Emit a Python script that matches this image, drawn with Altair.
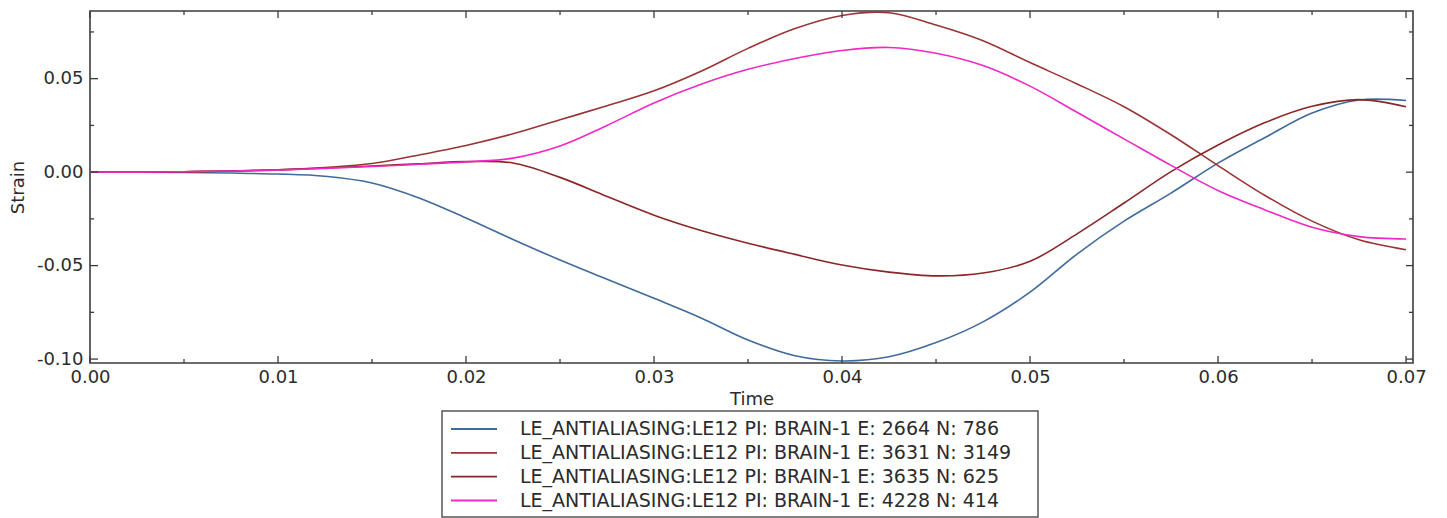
import altair as alt
import pandas as pd

# ---- data -----------------------------------------------------------------
time_s = [0.0, 0.0025, 0.005, 0.0075, 0.01, 0.0125, 0.015, 0.0175, 0.02,
          0.0225, 0.025, 0.0275, 0.03, 0.0325, 0.035, 0.0375, 0.04, 0.0425,
          0.045, 0.0475, 0.05, 0.0525, 0.055, 0.0575, 0.06, 0.0625, 0.065,
          0.0675, 0.07]

strain_e2664 = [0.0, 0.0, -0.0002, -0.0005, -0.001, -0.0022, -0.0058, -0.0138,
                -0.0245, -0.036, -0.047, -0.0573, -0.0675, -0.078, -0.0898,
                -0.0982, -0.101, -0.0988, -0.0912, -0.0801, -0.0642, -0.0438,
                -0.0262, -0.0112, 0.0048, 0.0185, 0.0316, 0.0386, 0.0383]

strain_e3631 = [0.0, 0.0, 0.0002, 0.0006, 0.0012, 0.0025, 0.0046, 0.0092,
                0.0143, 0.0205, 0.028, 0.0355, 0.0435, 0.054, 0.0662, 0.0768,
                0.0838, 0.0853, 0.0787, 0.0703, 0.0586, 0.0472, 0.035, 0.02,
                0.0035, -0.0125, -0.0262, -0.0362, -0.0415]

strain_e3635 = [0.0, 0.0, 0.0002, 0.0006, 0.0012, 0.0022, 0.0033, 0.0045,
                0.0056, 0.0049, -0.0028, -0.013, -0.023, -0.0312, -0.038,
                -0.044, -0.0497, -0.0535, -0.0555, -0.054, -0.0477, -0.033,
                -0.0165, 0.0003, 0.0145, 0.0265, 0.0352, 0.0388, 0.035]

strain_e4228 = [0.0, 0.0, 0.0002, 0.0006, 0.0011, 0.002, 0.003, 0.0042,
                0.0055, 0.0075, 0.014, 0.025, 0.037, 0.047, 0.055, 0.0608,
                0.0651, 0.0667, 0.0636, 0.057, 0.046, 0.032, 0.0178, 0.0036,
                -0.0098, -0.0202, -0.0295, -0.0345, -0.0358]

series_names = [
    "LE_ANTIALIASING:LE12 PI: BRAIN-1 E: 2664 N: 786",
    "LE_ANTIALIASING:LE12 PI: BRAIN-1 E: 3631 N: 3149",
    "LE_ANTIALIASING:LE12 PI: BRAIN-1 E: 3635 N: 625",
    "LE_ANTIALIASING:LE12 PI: BRAIN-1 E: 4228 N: 414",
]
series_colors = ["#3f6b9c", "#9a3434", "#8a2626", "#f028c4"]

x_major = [0.0, 0.01, 0.02, 0.03, 0.04, 0.05, 0.06, 0.07]
x_minor = [0.005, 0.015, 0.025, 0.035, 0.045, 0.055, 0.065]
y_major = [-0.10, -0.05, 0.0, 0.05]
y_minor = [-0.075, -0.025, 0.025, 0.075]

# ---- layout / style -------------------------------------------------------
W, H = 1323, 352
FONT = "DejaVu Sans"
FS = 18
LEGEND_FS = 19
INK = "#2b2b2b"
FRAME = "#3c3c3c"

rows = []
for name, vals in zip(series_names,
                      [strain_e2664, strain_e3631, strain_e3635, strain_e4228]):
    for t, v in zip(time_s, vals):
        rows.append({"time": t, "strain": v, "series": name})
curves = pd.DataFrame(rows)

xs = alt.Scale(domain=[0.0, 0.07037], nice=False, zero=False)
ys = alt.Scale(domain=[-0.1021, 0.0862], nice=False, zero=False)

x_axis = alt.Axis(values=x_major, format=".2f", labelFlush=False,
                  ticks=False, tickSize=0, domain=False, grid=False,
                  labelPadding=5, titlePadding=4)
y_axis = alt.Axis(values=y_major, labelFlush=False,
                  labelExpr="replace(format(datum.value, '.2f'), '\u2212', '-')",
                  ticks=False, tickSize=0, domain=False, grid=False,
                  labelPadding=7, titlePadding=9)


def x_enc():
    return alt.X("time:Q", scale=xs, title="Time", axis=x_axis)


def y_enc():
    return alt.Y("strain:Q", scale=ys, title="Strain", axis=y_axis)


color = alt.Color("series:N",
                  scale=alt.Scale(domain=series_names, range=series_colors),
                  legend=None)

lines = alt.Chart(curves).mark_line(
    strokeWidth=1.6, interpolate="catmull-rom"
).encode(x=x_enc(), y=y_enc(), color=color)


# inward-pointing frame ticks on all four sides
def x_ticks(values, length, top):
    df = pd.DataFrame({"time": values})
    y0, y1 = (0, length) if top else (H, H - length)
    return alt.Chart(df).mark_rule(color=FRAME, strokeWidth=1.3).encode(
        x=x_enc(), y=alt.value(y0), y2=alt.value(y1))


def y_ticks(values, length, right):
    df = pd.DataFrame({"strain": values})
    x0, x1 = (W, W - length) if right else (0, length)
    return alt.Chart(df).mark_rule(color=FRAME, strokeWidth=1.3).encode(
        y=y_enc(), x=alt.value(x0), x2=alt.value(x1))


ticks = [
    x_ticks(x_major, 7, False), x_ticks(x_minor, 4, False),
    x_ticks(x_major, 7, True), x_ticks(x_minor, 4, True),
    y_ticks(y_major, 8, False), y_ticks(y_minor, 4, False),
    y_ticks(y_major, 7, True), y_ticks(y_minor, 4, True),
]

plot = alt.layer(lines, *ticks)

# ---- legend box below the axes ---------------------------------------------
legend_df = pd.DataFrame({"series": series_names})
row_y = alt.Y("series:N",
              scale=alt.Scale(type="point", domain=series_names,
                              range=[418, 489.5], padding=0),
              axis=None)

box = alt.Chart(alt.Data(values=[{"k": 0}])).mark_rect(
    fill="white", stroke="#555555", strokeWidth=1.5
).encode(x=alt.value(352), x2=alt.value(948),
         y=alt.value(400), y2=alt.value(506))

swatch = alt.Chart(legend_df).mark_rule(strokeWidth=1.8).encode(
    x=alt.value(361), x2=alt.value(407), y=row_y, color=color)

labels = alt.Chart(legend_df).mark_text(
    align="left", baseline="middle", font=FONT, fontSize=LEGEND_FS, color=INK
).encode(x=alt.value(430), y=row_y, text="series:N")

legend = alt.layer(box, swatch, labels)

chart = alt.layer(plot, legend).resolve_scale(y="independent").properties(
    width=W, height=H,
    autosize=alt.AutoSizeParams(type="none"),
    padding={"left": 90, "top": 11, "right": 34, "bottom": 155},
    background="white",
).configure_view(
    stroke=FRAME, strokeWidth=1.6
).configure_axis(
    labelFont=FONT, labelFontSize=FS, labelColor=INK,
    titleFont=FONT, titleFontSize=FS, titleColor=INK, titleFontWeight="normal",
)

chart.save("out.html", embed_options={"renderer": "svg", "actions": False})
